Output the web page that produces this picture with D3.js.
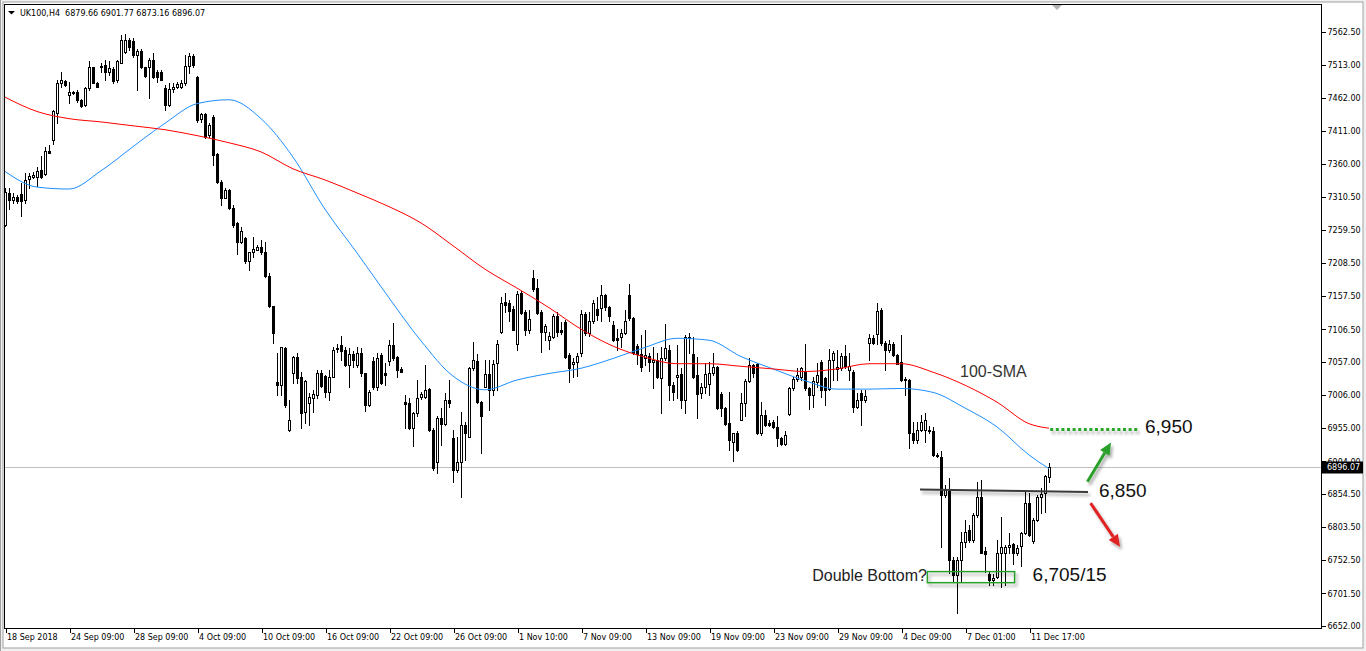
<!DOCTYPE html>
<html><head><meta charset="utf-8">
<script src="https://cdnjs.cloudflare.com/ajax/libs/d3/7.8.5/d3.min.js"></script>
<style>
html,body{margin:0;padding:0;background:#f0f0f0;overflow:hidden;}
svg{display:block;}
</style></head><body>
<svg id="c" width="1366" height="651"></svg>
<script>
// ---------- data (UK100, H4) ----------
const symbol = "UK100,H4";
const lastOHLC = [6879.66, 6901.77, 6873.16, 6896.07];

const open = [
7267,7316,7305,7310,7315,7305,7337,7341,7341,7351,7345,7380,7397,7439,7484,7488,7466,7471,7471,7459,
7451,7477,7509,7485,7509,7512,7502,7506,7489,7516,7533,7550,7549,7528,7534,7509,7510,7520,7502,7502,
7477,7451,7476,7479,7479,7484,7511,7526,7494,7429,7437,7405,7433,7376,7333,7309,7320,7293,7270,7240,
7247,7211,7225,7229,7233,7226,7189,7142,7026,7021,7078,6952,7040,7065,7034,6980,6994,7002,7006,7039,
7035,7011,7034,7076,7083,7075,7052,7069,7052,7071,7039,6990,7058,7018,7067,7039,7058,7083,7065,7046,
6995,6993,6956,6978,7003,7003,7015,6953,6903,6970,6961,6999,6940,6891,6903,6960,6942,7047,7058,6996,
7019,7038,7014,7055,7102,7149,7147,7138,7085,7162,7134,7106,7185,7170,7134,7103,7091,7095,7127,7105,
7118,7067,7054,7057,7071,7130,7101,7120,7138,7139,7160,7141,7113,7093,7095,7101,7160,7124,7081,7069,
7062,7066,7057,7060,7032,7062,7075,7021,7033,7038,6999,7093,7069,7037,7009,7018,7023,7040,7049,7007,
6986,6963,6934,6947,6968,6994,7028,7052,7054,6947,6975,6963,6965,6957,6940,6931,6977,7016,7030,7034,
7042,7016,7006,7026,7057,7032,7015,7059,7046,7047,7066,7045,7042,6987,7009,6999,7086,7093,7100,7136,
7086,7075,7085,7067,7057,7029,7029,6948,6937,6952,6952,6952,6951,6914,6911,6853,6859,6753,6730,6753,
6781,6799,6784,6822,6849,6766,6732,6722,6726,6763,6763,6773,6777,6763,6774,6794,6841,6782,6814,6850,
6855,6879.66];
const high = [
7323,7323,7316,7313,7331,7346,7346,7348,7356,7372,7387,7390,7444,7489,7502,7490,7487,7473,7474,7460,
7479,7518,7510,7487,7516,7520,7518,7510,7520,7558,7560,7553,7553,7537,7537,7510,7523,7530,7505,7505,
7482,7484,7484,7487,7489,7528,7530,7529,7496,7438,7438,7423,7436,7377,7336,7323,7322,7298,7272,7264,
7249,7226,7249,7236,7244,7241,7193,7143,7070,7080,7080,6999,7066,7071,7042,7029,7009,7014,7044,7044,
7037,7044,7080,7084,7097,7080,7078,7073,7080,7078,7040,7014,7065,7071,7071,7055,7090,7117,7066,7049,
7006,7001,6980,7029,7011,7052,7016,6955,6973,6986,7009,7029,6952,6942,6980,6965,7049,7088,7069,6997,
7060,7059,7060,7090,7157,7162,7152,7142,7165,7165,7136,7136,7198,7184,7136,7115,7103,7131,7134,7118,
7121,7070,7062,7070,7136,7134,7134,7152,7157,7175,7161,7143,7119,7108,7108,7136,7177,7126,7084,7098,
7106,7070,7079,7070,7080,7115,7083,7026,7083,7047,7098,7101,7095,7065,7024,7055,7056,7070,7051,7010,
6988,7011,6948,6950,7009,7030,7062,7054,7055,6996,6983,6967,6968,6973,6942,6950,7019,7033,7047,7049,
7085,7019,7033,7055,7060,7034,7076,7073,7075,7070,7083,7070,7044,7009,7014,7014,7100,7098,7147,7139,
7089,7090,7088,7069,7098,7033,7030,6964,6964,6975,6978,6958,6957,6917,6920,6868,6879,6758,6758,6796,
6814,6807,6825,6873,6876,6773,6735,6732,6784,6819,6776,6794,6779,6776,6796,6858,6855,6817,6853,6864,
6883,6901.77];
const low = [
7265,7292,7300,7300,7280,7300,7323,7339,7326,7339,7344,7377,7391,7423,7479,7480,7454,7468,7456,7448,
7450,7474,7484,7478,7502,7489,7497,7484,7487,7515,7530,7535,7525,7474,7507,7494,7461,7492,7487,7489,
7443,7449,7471,7477,7477,7482,7500,7510,7425,7425,7400,7402,7359,7331,7298,7308,7292,7264,7223,7239,
7209,7198,7218,7228,7223,7187,7141,7086,7006,7006,6988,6950,7025,7024,6955,6963,6960,6980,7001,7019,
7003,6998,7033,7072,7059,7050,7019,7049,7049,7035,6981,6989,7015,7014,7023,7022,7052,7060,7033,7041,
6955,6954,6928,6973,7000,7002,6950,6891,6887,6929,6960,6987,6873,6888,6850,6906,6941,7044,6994,6917,
7018,6983,7006,7014,7101,7134,7119,7105,7075,7131,7098,7101,7165,7131,7072,7090,7076,7094,7097,7100,
7062,7026,7034,7035,7066,7098,7096,7116,7121,7119,7136,7120,7089,7075,7080,7100,7121,7069,7054,7043,
7052,7043,7016,7032,6979,7060,6998,6998,7001,6986,6979,7070,7032,6970,7001,7009,7006,7037,6985,6973,
6960,6922,6905,6920,6967,6973,7026,7034,6946,6945,6959,6959,6955,6927,6929,6930,6975,7014,7028,7029,
7014,6984,6988,7019,7003,6991,7014,7029,7029,7044,7047,7029,6980,6986,6960,6996,7060,7085,7084,7083,
7044,7072,7066,7053,7028,7006,6924,6933,6932,6950,6934,6948,6912,6911,6773,6850,6733,6720,6671,6720,
6773,6781,6781,6819,6763,6735,6714,6714,6725,6712,6715,6763,6747,6760,6744,6793,6789,6779,6812,6825,
6827,6873.16];
const close = [
7318,7305,7310,7303,7303,7336,7342,7344,7349,7341,7380,7377,7441,7484,7489,7481,7471,7469,7459,7450,
7477,7509,7485,7479,7511,7502,7507,7488,7518,7551,7550,7540,7528,7534,7509,7496,7520,7494,7494,7490,
7451,7476,7479,7483,7485,7511,7526,7512,7428,7437,7402,7420,7374,7333,7309,7320,7293,7267,7240,7258,
7211,7225,7230,7233,7225,7189,7142,7101,7021,7079,6991,6968,7064,7032,6979,7028,7003,7008,7039,7020,
7011,7034,7075,7078,7074,7052,7069,7060,7071,7040,6991,7011,7019,7062,7024,7037,7083,7062,7044,7042,
6992,6956,6979,7001,7007,7014,6952,6894,6970,6961,6999,6993,6891,6903,6960,6947,7047,7059,6996,6973,
7038,7014,7054,7085,7147,7144,7135,7106,7161,7132,7106,7122,7168,7132,7103,7112,7097,7127,7103,7102,
7064,7047,7057,7066,7130,7101,7120,7147,7129,7160,7141,7127,7090,7090,7101,7119,7124,7070,7069,7049,
7067,7056,7060,7034,7062,7078,7021,7011,7037,6999,7095,7095,7034,7008,7019,7038,7040,7049,6986,6986,
6962,6937,6947,6922,6994,7028,7052,7039,6947,6975,6960,6960,6957,6940,6931,6945,7016,7030,7037,7047,
7016,7006,7028,7037,7014,7014,7060,7071,7049,7066,7051,7051,6988,6999,6998,7005,7093,7086,7135,7086,
7075,7085,7067,7054,7029,7030,6948,6937,6952,6965,6967,6950,6914,6912,6853,6860,6753,6730,6753,6781,
6796,6784,6822,6849,6764,6762,6722,6725,6763,6773,6773,6776,6763,6771,6794,6841,6791,6814,6850,6854,
6881,6896.07];

// moving averages, read every 8 bars (+ last bar)
const maIdx = [0,8,16,24,32,40,48,56,64,72,80,88,96,104,112,120,128,136,144,152,160,168,176,184,192,200,208,216,224,232,240,248,256,261];
const sma100 = [7463,7441,7430,7425,7419,7413,7404,7393,7379,7353,7336,7316,7295,7270,7235,7199,7170,7140,7107,7081,7064,7054,7054,7050,7046,7042,7046,7054,7054,7041,7021,6995,6962,6955];
const smaFast = [7349,7325,7322,7350,7387,7423,7453,7459,7430,7371,7291,7224,7155,7089,7035,7014,7029,7039,7047,7062,7079,7093,7090,7065,7046,7028,7015,7015,7016,7010,6986,6957,6914,6893];

// axes
const priceTicks = [7562.50,7513.00,7462.00,7411.00,7360.00,7310.50,7259.50,7208.50,7157.50,7106.50,7057.00,7006.00,6955.00,6904.00,6854.50,6803.50,6752.50,6701.50,6652.00];
const timeIdx = [0,16,32,48,64,80,96,112,128,144,160,176,192,208,224,240,256];
const timeLabels = ["18 Sep 2018","24 Sep 09:00","28 Sep 09:00","4 Oct 09:00","10 Oct 09:00","16 Oct 09:00","22 Oct 09:00","26 Oct 09:00","1 Nov 10:00","7 Nov 09:00","13 Nov 09:00","19 Nov 09:00","23 Nov 09:00","29 Nov 09:00","4 Dec 09:00","7 Dec 01:00","11 Dec 17:00"];

// ---------- drawing ----------
const W = 1366, H = 651;
const P = {l:4, t:4, r:1321, b:628};
const x = d3.scaleLinear().domain([0, 329]).range([5, 1321]);
const y = d3.scaleLinear().domain([6652, 7562.5]).range([625.7, 32.3]);
const axisFont = "'DejaVu Sans', Verdana, sans-serif";
const annFont = "'Liberation Sans', Arial, sans-serif";

const svg = d3.select('#c');
const defs = svg.append('defs');
const flt = defs.append('filter').attr('id','sh').attr('filterUnits','userSpaceOnUse')
  .attr('x',0).attr('y',0).attr('width',W).attr('height',H);
flt.append('feDropShadow').attr('dx',2).attr('dy',3).attr('stdDeviation',1.6)
  .attr('flood-color','#000').attr('flood-opacity',0.33);

// window background
svg.append('rect').attr('width',W).attr('height',H).attr('fill','#f0f0f0');
svg.append('rect').attr('x',3).attr('y',2).attr('width',1360).attr('height',646)
  .attr('fill','#fff').attr('stroke','#a0a0a0').attr('stroke-width',1);
svg.append('line').attr('x1',0.5).attr('x2',0.5).attr('y1',0).attr('y2',H).attr('stroke','#a0a0a0');

// current price line
const lastY = Math.round(y(lastOHLC[3])) + 0.5;
svg.append('line').attr('x1',P.l).attr('x2',P.r).attr('y1',lastY).attr('y2',lastY)
  .attr('stroke','#c0c0c0').attr('stroke-width',1);

// candles
const bars = d3.range(open.length).map(i => ({i, o:open[i], h:high[i], l:low[i], c:close[i]}));
const cg = svg.append('g').attr('shape-rendering','crispEdges');
bars.forEach(d => {
  const cx = Math.round(x(d.i));
  const yh = Math.round(y(d.h)), yl = Math.round(y(d.l));
  cg.append('rect').attr('x',cx).attr('y',yh).attr('width',1).attr('height',Math.max(1,yl-yh+1)).attr('fill','#000');
  const yo = Math.round(y(d.o)), yc = Math.round(y(d.c));
  const top = Math.min(yo,yc), bot = Math.max(yo,yc);
  if (d.c >= d.o) {
    if (bot - top < 2) {
      cg.append('rect').attr('x',cx-1).attr('y',top).attr('width',3).attr('height',Math.max(1,bot-top+1)).attr('fill','#000');
    } else {
      cg.append('rect').attr('x',cx-0.5).attr('y',top+0.5).attr('width',2).attr('height',bot-top)
        .attr('fill','#fff').attr('stroke','#000').attr('stroke-width',1);
    }
  } else {
    cg.append('rect').attr('x',cx-1).attr('y',top).attr('width',3).attr('height',Math.max(1,bot-top+1)).attr('fill','#000');
  }
});

// moving averages
const maLine = arr => d3.line().x((d,k)=>x(maIdx[k])).y(d=>y(d)).curve(d3.curveMonotoneX)(arr);
svg.append('path').attr('d',maLine(smaFast)).attr('fill','none').attr('stroke','#1e90ff').attr('stroke-width',1);
svg.append('path').attr('d',maLine(sma100)).attr('fill','none').attr('stroke','#ff0000').attr('stroke-width',1);

// frame
svg.append('rect').attr('x',P.l+0.5).attr('y',P.t+0.5).attr('width',P.r-P.l).attr('height',P.b-P.t)
  .attr('fill','none').attr('stroke','#000').attr('stroke-width',1).attr('shape-rendering','crispEdges');

// right price axis
const ya = svg.append('g').attr('transform',`translate(${P.r+0.5},0)`)
  .call(d3.axisRight(y).tickValues(priceTicks).tickSize(4).tickSizeOuter(0).tickPadding(2).tickFormat(d=>d.toFixed(2)));
ya.select('.domain').remove();
ya.selectAll('line').attr('stroke','#000').attr('shape-rendering','crispEdges');
ya.selectAll('text').attr('font-family',axisFont).attr('font-size','8px').attr('fill','#000');

// bottom time axis
const xa = svg.append('g').attr('transform',`translate(0.5,${P.b+0.5})`)
  .call(d3.axisBottom(x).tickValues(timeIdx).tickSize(4).tickSizeOuter(0).tickFormat((d,k)=>timeLabels[k]));
xa.select('.domain').remove();
xa.selectAll('line').attr('stroke','#000').attr('shape-rendering','crispEdges');
xa.selectAll('text').attr('font-family',axisFont).attr('font-size','8px').attr('fill','#000')
  .attr('text-anchor','start').attr('x',1).attr('y',5.5).attr('dy','0.71em');

// current price tag
svg.append('rect').attr('x',P.r+1).attr('y',lastY-6).attr('width',41).attr('height',12).attr('fill','#000');
svg.append('text').attr('x',P.r+6).attr('y',lastY).attr('dy','0.34em').attr('font-family',axisFont)
  .attr('font-size','8px').attr('fill','#fff').text(lastOHLC[3].toFixed(2));

// header
svg.append('path').attr('d','M8,11 L15,11 L11.5,14.5 Z').attr('fill','#000');
svg.append('text').attr('x',20).attr('y',16).attr('font-family',axisFont).attr('font-size','8px').attr('fill','#000')
  .attr('xml:space','preserve')
  .text(symbol + "  " + lastOHLC.map(v=>v.toFixed(2)).join(' '));
// chart shift marker
svg.append('path').attr('d','M1052,5 L1062,5 L1057,10 Z').attr('fill','#b4b4b4');

// ---------- annotations ----------
const ann = svg.append('g');
// 100-SMA label
ann.append('text').attr('x',x(238.75)).attr('y',y(7033)).attr('font-family',annFont).attr('font-size','16px')
  .attr('fill','#333').text('100-SMA');
// 6,950 target (dotted)
ann.append('line').attr('x1',x(261.3)).attr('x2',x(283.3)).attr('y1',y(6953)).attr('y2',y(6953))
  .attr('stroke','#25a525').attr('stroke-width',3).attr('stroke-dasharray','3,2.6').attr('filter','url(#sh)');
ann.append('text').attr('x',x(285)).attr('y',y(6948)).attr('font-family',annFont).attr('font-size','19px')
  .attr('fill','#111').text('6,950');
// 6,850 neckline
ann.append('line').attr('x1',x(228.75)).attr('x2',x(270.75)).attr('y1',y(6861)).attr('y2',y(6857))
  .attr('stroke','#3a3a3a').attr('stroke-width',2).attr('filter','url(#sh)');
ann.append('text').attr('x',x(273.5)).attr('y',y(6849)).attr('font-family',annFont).attr('font-size','19px')
  .attr('fill','#111').text('6,850');
// arrows
function arrow(i0,p0,i1,p1,col){
  const x0=x(i0), y0=y(p0), x1=x(i1), y1=y(p1);
  const a=Math.atan2(y1-y0,x1-x0), L=12, Wd=5.5;
  const bx=x1-L*Math.cos(a), by=y1-L*Math.sin(a);
  const g=ann.append('g').attr('filter','url(#sh)');
  g.append('line').attr('x1',x0).attr('y1',y0).attr('x2',bx).attr('y2',by).attr('stroke',col).attr('stroke-width',3);
  g.append('path').attr('d',`M${x1},${y1} L${bx+Wd*Math.sin(a)},${by-Wd*Math.cos(a)} L${bx-Wd*Math.sin(a)},${by+Wd*Math.cos(a)} Z`).attr('fill',col);
}
arrow(270.6,6873,276.5,6933,'#2aa02a');
arrow(271.4,6840,278.75,6773,'#e02424');
// double bottom box
ann.append('rect').attr('x',x(230.6)).attr('y',y(6735)).attr('width',x(252.4)-x(230.6)).attr('height',y(6718)-y(6735))
  .attr('fill','none').attr('stroke','#2aa02a').attr('stroke-width',1.5).attr('filter','url(#sh)');
ann.append('text').attr('x',x(201.8)).attr('y',y(6721)).attr('font-family',annFont).attr('font-size','16px')
  .attr('fill','#222').text('Double Bottom?');
ann.append('text').attr('x',x(256.9)).attr('y',y(6721)).attr('font-family',annFont).attr('font-size','19px')
  .attr('fill','#111').text('6,705/15');
</script>
</body></html>
